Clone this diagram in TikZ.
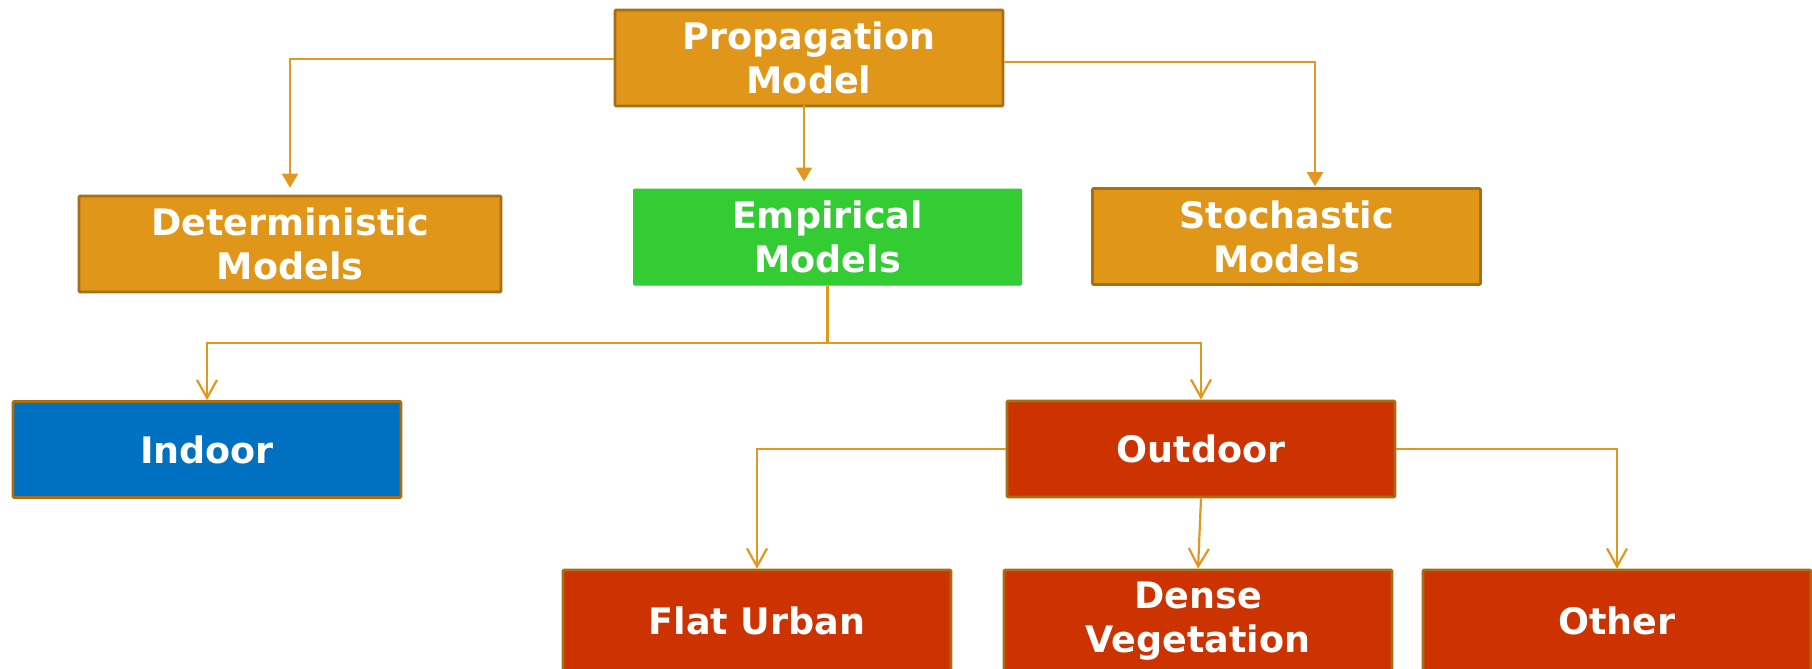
\documentclass[tikz,border=0pt]{standalone}
\usepackage{fontspec}
\setmainfont{DejaVu Sans}
\usetikzlibrary{arrows.meta}
\definecolor{amber}{RGB}{224,151,25}
\definecolor{amberedge}{RGB}{168,110,20}
\definecolor{leaf}{RGB}{51,204,51}
\definecolor{sky}{RGB}{0,112,192}
\definecolor{brick}{RGB}{204,51,0}
\definecolor{wire}{RGB}{226,152,30}
\tikzset{
  box/.style={rectangle, draw=amberedge, line width=2.6pt, rounded corners=1pt,
    minimum width=388pt, minimum height=96pt, inner sep=0pt,
    text=white, font=\bfseries\fontsize{36.5}{44}\selectfont, align=center},
  link/.style={draw=wire, line width=2.2pt},
  solidtip/.style={link, -{Triangle[width=16pt,length=14pt]}},
  opentip/.style={link, -{Straight Barb[width=20pt,length=18pt]}}
}
\begin{document}
\begin{tikzpicture}[x=1pt,y=-1pt]
  \clip (0,0) rectangle (1812,669);
  \fill[white] (0,0) rectangle (1812,669);

  % top level
  \node[box, fill=amber] (prop) at (809,58) {Propagation\\Model};
  \node[box, fill=amber, minimum width=422pt] (det) at (290,244) {Deterministic\\Models};
  \node[box, fill=leaf, draw=leaf, line width=1pt] (emp) at (827.5,237) {Empirical\\Models};
  \node[box, fill=amber] (sto) at (1286.5,236.5) {Stochastic\\Models};

  % second level
  \node[box, fill=sky] (indoor) at (207,449.5) {Indoor};
  \node[box, fill=brick] (outdoor) at (1201,449) {Outdoor};

  % third level
  \node[box, fill=brick, minimum height=102pt] (flat) at (757,621) {Flat Urban};
  \node[box, fill=brick, minimum height=102pt] (dense) at (1198,621) {Dense\\Vegetation};
  \node[box, fill=brick, minimum height=102pt] (other) at (1617,621) {Other};

  % links from the root
  \draw[solidtip, shorten >=7pt] ([yshift=-1pt]prop.west) -| (det.north);
  \draw[solidtip, shorten >=1pt] ([yshift=-4pt]prop.east) -| ([xshift=28.5pt]sto.north);
  \coordinate (rootfoot) at ([xshift=-5pt, yshift=2pt]prop.south);
  \draw[solidtip, shorten >=7pt] (rootfoot) -- (rootfoot |- emp.north);

  % links from the empirical models
  \coordinate (split) at (827.5,343);
  \draw[link] (emp.south) -- (split);
  \draw[opentip] (split) -| (indoor.north);
  \draw[opentip] (split) -| (outdoor.north);

  % links from the outdoor models
  \draw[opentip] (outdoor.west) -| (flat.north);
  \draw[opentip] (outdoor.east) -| (other.north);
  \draw[opentip] (outdoor.south) -- (dense.north);
\end{tikzpicture}
\end{document}
